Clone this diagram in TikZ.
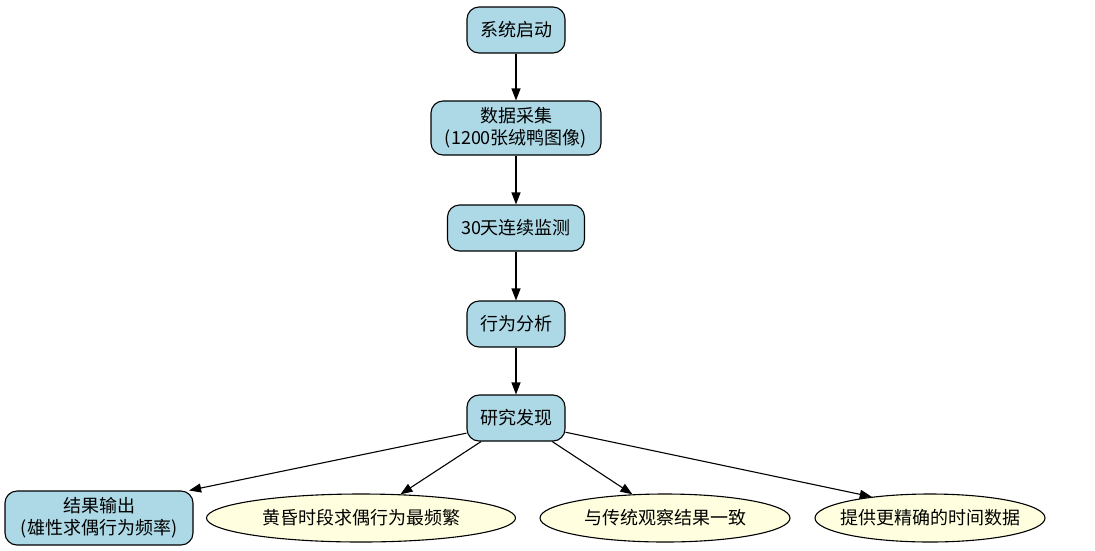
\documentclass[tikz,border=0pt]{standalone}
\usepackage{fontspec}
\setmainfont{Noto Sans CJK SC}
\usetikzlibrary{arrows.meta,shapes.geometric}
\definecolor{boxblue}{HTML}{ADD8E6}
\definecolor{ellyellow}{HTML}{FFFFE0}
\tikzset{
  stepbox/.style={draw=black, line width=1.1pt, fill=boxblue, rounded corners=12pt, inner sep=0pt, align=center,
    font=\fontsize{18}{22}\selectfont},
  findell/.style={draw=black, line width=1.1pt, fill=ellyellow, ellipse, inner xsep=-60pt, inner ysep=-8pt, align=center,
    font=\fontsize{18}{22}\selectfont},
  arr/.style={draw=black, line width=1.1pt, -{Triangle[length=12pt,width=9pt]}}
}
\begin{document}
\begin{tikzpicture}[x=1pt,y=-1pt]
\useasboundingbox (0,0) rectangle (1095,550);
\node[stepbox, minimum width=98pt, minimum height=46pt] (n1) at (516,30) {系统启动};
\node[stepbox, minimum width=170pt, minimum height=54pt] (n2) at (516,128) {数据采集\\(1200张绒鸭图像)};
\node[stepbox, minimum width=137pt, minimum height=46pt] (n3) at (516,228) {30天连续监测};
\node[stepbox, minimum width=98pt, minimum height=46pt] (n4) at (516,324) {行为分析};
\node[stepbox, minimum width=98pt, minimum height=46pt] (n5) at (516,418) {研究发现};
\node[stepbox, minimum width=188pt, minimum height=54pt] (r1) at (99,518) {结果输出\\(雄性求偶行为频率)};
\node[findell, minimum width=309pt, minimum height=48pt] (e1) at (361,518) {黄昏时段求偶行为最频繁};
\node[findell, minimum width=250pt, minimum height=48pt] (e2) at (665,518) {与传统观察结果一致};
\node[findell, minimum width=230pt, minimum height=48pt] (e3) at (930,518) {提供更精确的时间数据};
\draw[arr] (n1.south) -- (n2.north);
\draw[arr] (n2.south) -- (n3.north);
\draw[arr] (n3.south) -- (n4.north);
\draw[arr] (n4.south) -- (n5.north);
\draw[arr] (n5.197) -- (r1.17);
\draw[arr] (n5.214) -- (e1.31);
\draw[arr] (n5.327) -- (e2.144);
\draw[arr] (n5.344) -- (e3.160);
\end{tikzpicture}
\end{document}
